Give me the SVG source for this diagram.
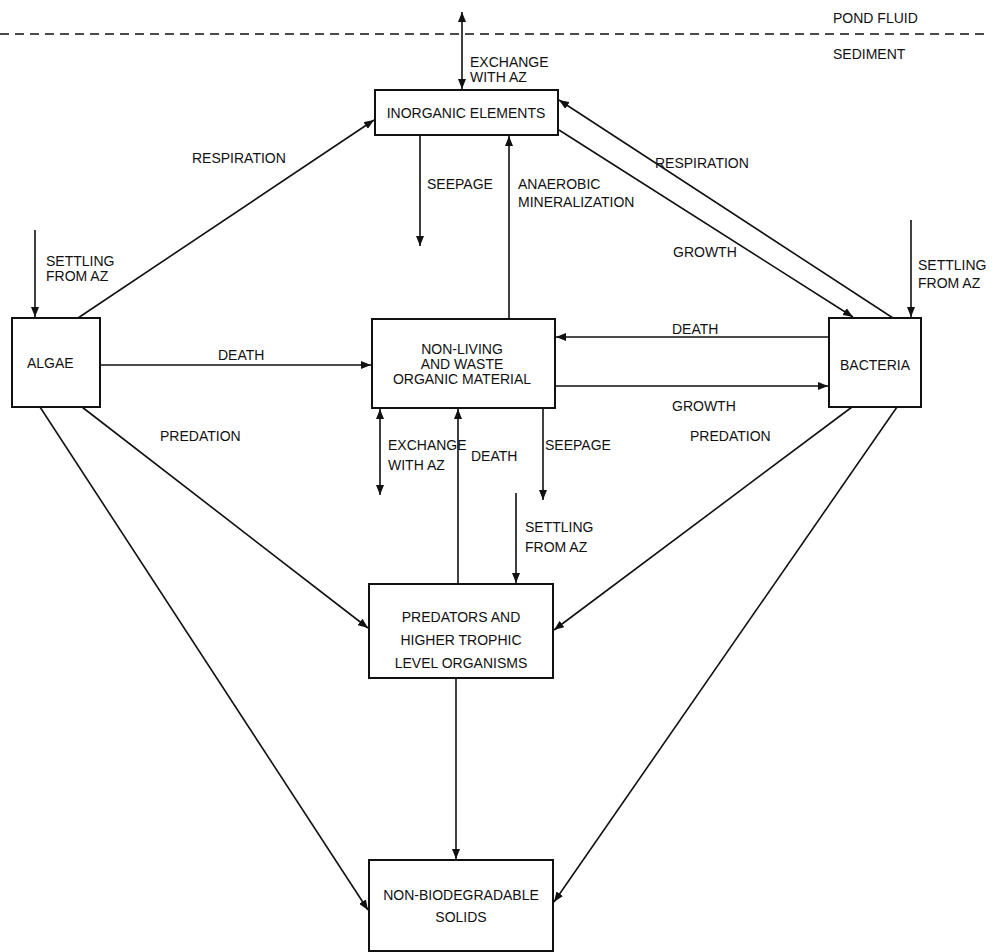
<svg xmlns="http://www.w3.org/2000/svg" width="996" height="952" viewBox="0 0 996 952">
<defs>
<marker id="ah" viewBox="0 0 10 8" refX="10" refY="4" markerWidth="10" markerHeight="8" markerUnits="userSpaceOnUse" orient="auto-start-reverse">
<path d="M0,0 L10,4 L0,8 Z" fill="#111"/>
</marker>
<style>
.box{fill:#fff;stroke:#111;stroke-width:2}
.ln{fill:none;stroke:#111;stroke-width:1.6}
.ar{marker-end:url(#ah)}
.ar2{marker-start:url(#ah);marker-end:url(#ah)}
text{font-family:"Liberation Sans",Arial,sans-serif;font-size:14px;fill:#111}
.c{text-anchor:middle}
</style>
</defs>
<rect width="996" height="952" fill="#fff"/>
<line x1="0" y1="34" x2="990" y2="34" stroke="#111" stroke-width="1.6" stroke-dasharray="9,6"/>
<text x="833" y="23">POND FLUID</text>
<text x="833" y="59">SEDIMENT</text>

<g id="connectors">
<line class="ln ar2" x1="462" y1="12" x2="462" y2="89"/>
<line class="ln ar" x1="78" y1="318" x2="374" y2="120"/>
<line class="ln ar" x1="35" y1="230" x2="35" y2="317"/>
<line class="ln ar" x1="101" y1="365" x2="371" y2="365"/>
<line class="ln ar" x1="420" y1="136" x2="420" y2="246"/>
<line class="ln ar" x1="509" y1="319" x2="509" y2="136"/>
<line class="ln ar" x1="893" y1="318" x2="559" y2="100"/>
<line class="ln ar" x1="559" y1="130" x2="853" y2="317"/>
<line class="ln ar" x1="911" y1="220" x2="911" y2="317"/>
<line class="ln ar" x1="829" y1="337" x2="556" y2="337"/>
<line class="ln ar" x1="555" y1="386" x2="828" y2="386"/>
<line class="ln ar2" x1="380" y1="409" x2="380" y2="495"/>
<line class="ln ar" x1="458" y1="584" x2="458" y2="409"/>
<line class="ln ar" x1="543" y1="408" x2="543" y2="500"/>
<line class="ln ar" x1="516" y1="493" x2="516" y2="583"/>
<line class="ln ar" x1="82" y1="407" x2="368" y2="628"/>
<line class="ln ar" x1="852" y1="407" x2="554" y2="630"/>
<line class="ln ar" x1="40" y1="407" x2="368" y2="910"/>
<line class="ln ar" x1="897" y1="407" x2="554" y2="902"/>
<line class="ln ar" x1="456" y1="678" x2="456" y2="859"/>
</g>

<g id="labels">
<text x="470" y="67">EXCHANGE</text>
<text x="470" y="82">WITH AZ</text>
<text x="192" y="163">RESPIRATION</text>
<text x="46" y="266">SETTLING</text>
<text x="46" y="281">FROM AZ</text>
<text x="218" y="360">DEATH</text>
<text x="427" y="189">SEEPAGE</text>
<text x="518" y="189">ANAEROBIC</text>
<text x="518" y="207">MINERALIZATION</text>
<text x="655" y="168">RESPIRATION</text>
<text x="673" y="257">GROWTH</text>
<text x="918" y="270">SETTLING</text>
<text x="918" y="288">FROM AZ</text>
<text x="672" y="334">DEATH</text>
<text x="672" y="411">GROWTH</text>
<text x="388" y="450">EXCHANGE</text>
<text x="388" y="470">WITH AZ</text>
<text x="471" y="461">DEATH</text>
<text x="545" y="450">SEEPAGE</text>
<text x="525" y="532">SETTLING</text>
<text x="525" y="552">FROM AZ</text>
<text x="160" y="441">PREDATION</text>
<text x="690" y="441">PREDATION</text>
</g>

<g id="inorganic">
<rect class="box" x="375" y="90" width="183" height="45"/>
<text class="c" x="466" y="118">INORGANIC ELEMENTS</text>
</g>
<g id="algae">
<rect class="box" x="12" y="318" width="88" height="89"/>
<text x="27" y="368">ALGAE</text>
</g>
<g id="nonliving">
<rect class="box" x="372" y="319" width="183" height="89"/>
<text class="c" x="462" y="354">NON-LIVING</text>
<text class="c" x="462" y="369">AND WASTE</text>
<text class="c" x="462" y="384">ORGANIC MATERIAL</text>
</g>
<g id="bacteria">
<rect class="box" x="829" y="318" width="92" height="89"/>
<text class="c" x="875" y="370">BACTERIA</text>
</g>
<g id="predators">
<rect class="box" x="369" y="584" width="184" height="94"/>
<text class="c" x="461" y="622">PREDATORS AND</text>
<text class="c" x="461" y="645">HIGHER TROPHIC</text>
<text class="c" x="461" y="668">LEVEL ORGANISMS</text>
</g>
<g id="nonbio">
<rect class="box" x="369" y="860" width="184" height="91"/>
<text class="c" x="461" y="900">NON-BIODEGRADABLE</text>
<text class="c" x="461" y="922">SOLIDS</text>
</g>
</svg>
